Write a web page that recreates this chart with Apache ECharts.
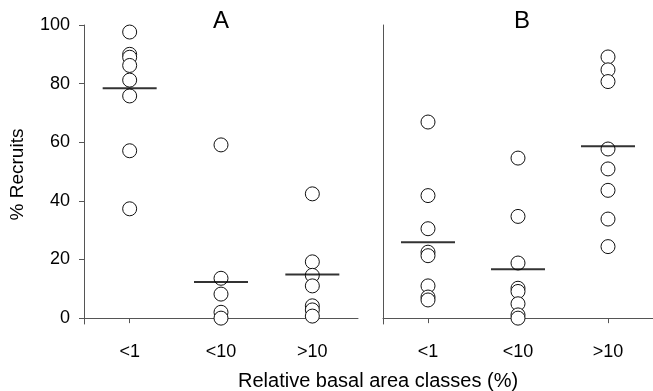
<!DOCTYPE html>
<html>
<head>
<meta charset="utf-8">
<script src="https://cdn.jsdelivr.net/npm/echarts@6/dist/echarts.min.js"></script>
<style>
html, body { margin: 0; padding: 0; background: #fff; }
#chart { width: 653px; height: 391px; }
</style>
</head>
<body>
<div id="chart"></div>
<script>
var categories = ['<1', '<10', '>10'];
var yTicks = [0, 20, 40, 60, 80, 100];

// panel A (% recruits per class)
var aLow = [97.6, 90.0, 89.0, 86.2, 81.2, 75.8, 57.1, 37.3];
var aMid = [59.1, 13.6, 8.2, 2.0, 0];
var aHigh = [42.4, 19.2, 14.6, 11.0, 4.2, 2.8, 0.7];
var aMedian = [78.4, 12.3, 14.9];

// panel B
var bLow = [66.9, 41.8, 30.5, 22.5, 21.3, 11.0, 7.2, 6.2];
var bMid = [54.6, 34.7, 18.8, 10.2, 9.1, 4.9, 1.1, 0];
var bHigh = [89.1, 84.7, 80.7, 57.7, 50.9, 43.6, 33.8, 24.4];
var bMedian = [25.9, 16.7, 58.6];

var font = 'Liberation Sans, Arial, sans-serif';
var axisColor = '#555';

function toPoints(groups){
	var pts = [];
	for(var i=0;i<groups.length;i++){
		for(var j=0;j<groups[i].length;j++){
			pts.push([i, groups[i][j]]);
		}
	}
	return pts;
}
function toMedian(arr){
	var pts = [];
	for(var i=0;i<arr.length;i++){
		pts.push([i, arr[i]]);
	}
	return pts;
}

function xAxisOpt(idx){
	return {
		type: 'category',
		gridIndex: idx,
		data: categories,
		boundaryGap: true,
		axisLine: { show: true, lineStyle: { color: axisColor, width: 1 } },
		axisTick: { show: true, alignWithLabel: true, length: 5, lineStyle: { color: axisColor } },
		axisLabel: { color: '#000', fontSize: 18, fontFamily: font, margin: 19 },
		splitLine: { show: false }
	};
}

function dotSeries(idx, data){
	return {
		type: 'scatter',
		xAxisIndex: idx,
		yAxisIndex: idx,
		symbol: 'circle',
		symbolSize: 14,
		itemStyle: { color: '#fff', borderColor: '#111', borderWidth: 1, opacity: 1 },
		z: 2,
		clip: false,
		data: data
	};
}
function medianSeries(idx, data){
	return {
		type: 'scatter',
		xAxisIndex: idx,
		yAxisIndex: idx,
		symbol: 'rect',
		symbolSize: [54, 2],
		itemStyle: { color: '#000' },
		z: 3,
		clip: false,
		data: data
	};
}

var chart = echarts.init(document.getElementById('chart'));
var option = {
	animation: false,
	backgroundColor: '#fff',
	grid: [
		{ left: 84, top: 25, width: 274, height: 299 },
		{ left: 383, top: 25, width: 273, height: 299 }
	],
	xAxis: [xAxisOpt(0), xAxisOpt(1)],
	yAxis: [{
		type: 'value',
		gridIndex: 0,
		min: -2,
		max: 100,
		name: '% Recruits',
		nameLocation: 'middle',
		nameGap: 57,
		nameTextStyle: { color: '#000', fontSize: 19, fontFamily: font },
		axisLine: { show: true, lineStyle: { color: axisColor, width: 1 } },
		axisTick: { show: true, length: 5, customValues: yTicks, lineStyle: { color: axisColor } },
		axisLabel: { color: '#000', fontSize: 18, fontFamily: font, margin: 14, customValues: yTicks },
		splitLine: { show: false }
	},{
		type: 'value',
		gridIndex: 1,
		min: -2,
		max: 100,
		axisLine: { show: true, lineStyle: { color: axisColor, width: 1 } },
		axisTick: { show: false },
		axisLabel: { show: false },
		splitLine: { show: false }
	}],
	graphic: [
		{ type: 'text', left: 213, top: 9, style: { text: 'A', fontSize: 24, fontFamily: font, fill: '#000' } },
		{ type: 'text', left: 514, top: 9, style: { text: 'B', fontSize: 24, fontFamily: font, fill: '#000' } },
		{ type: 'text', left: 238, top: 371, style: { text: 'Relative basal area classes (%)', fontSize: 20, fontFamily: font, fill: '#000' } }
	],
	series: [
		dotSeries(0, toPoints([aLow, aMid, aHigh])),
		medianSeries(0, toMedian(aMedian)),
		dotSeries(1, toPoints([bLow, bMid, bHigh])),
		medianSeries(1, toMedian(bMedian))
	]
};
chart.setOption(option);
</script>
</body>
</html>
